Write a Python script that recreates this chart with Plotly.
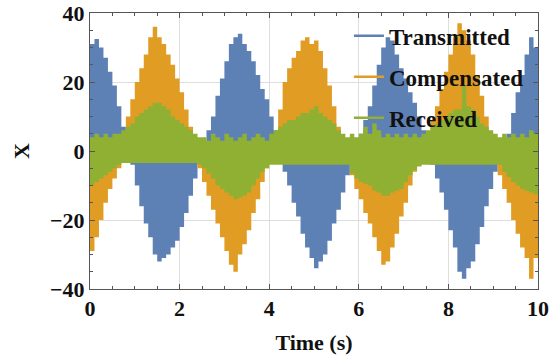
import plotly.graph_objects as go

# time grid (s)
time = [i / 10 for i in range(101)]

# Signed envelope of the Transmitted signal, read at 0.1 s steps
transmitted = [
    31, 32.5, 30, 27, 23, 19, 13, 7, 1, -4,
    -10, -16, -21, -25, -30, -32, -31, -30, -28, -26,
    -22, -18, -13, -8, -3, 2, 6, 10, 16, 21,
    26, 31, 33, 34, 31, 29, 26, 22, 18, 15,
    10, 6, 1, -6, -10, -15, -19, -24, -28, -31,
    -34, -32, -30, -26, -21, -17, -12, -7, -3, 1,
    5, 9, 13, 19, 25, 30, 33, 32, 28, 24,
    21, 17, 14, 10, 6, 2, -4, -8, -12, -17,
    -23, -28, -35, -37, -34, -32, -27, -22, -16, -11,
    -6, -2, 1, 5, 11, 17, 22, 28, 33, 30,
    31,
]

# Signed envelope of the Compensated signal
compensated = [
    -29, -25, -20, -15, -11, -8, -5, -2, 10, 15,
    20, 24, 28, 33, 36, 33, 31, 28, 25, 21,
    17, 12, 7, 3, -5, -9, -13, -17, -21, -25,
    -29, -33, -35, -30, -27, -23, -18, -14, -9, -5,
    -2, 4, 12, 20, 24, 27, 29, 32, 33, 31,
    32, 29, 24, 19, 13, 7, 3, -3, -7, -11,
    -14, -18, -21, -25, -29, -33, -32, -28, -24, -19,
    -15, -10, -6, -2, 2, 5, 9, 13, 18, 23,
    28, 33, 37, 35, 32, 28, 22, 16, 10, 5,
    -3, -7, -11, -15, -20, -24, -28, -31, -37, -31,
    -29,
]

# Upper / lower envelope of the Received signal
received_upper = [
    4, 5, 4, 5, 4, 5, 5, 6, 7, 8,
    10, 11, 12, 13, 14, 14, 13, 12, 10, 9,
    8, 7, 6, 5, 4, 4, 3, 5, 4, 3,
    5, 4, 3, 4, 5, 3, 4, 5, 4, 3,
    5, 6, 7, 8, 9, 9, 10, 11, 11, 12,
    13, 11, 10, 9, 8, 6, 5, 4, 5, 4,
    5, 7, 5, 8, 6, 4, 5, 4, 5, 4,
    5, 4, 5, 4, 5, 6, 7, 8, 9, 10,
    11, 12, 12, 19, 13, 12, 10, 8, 7, 6,
    5, 4, 5, 4, 5, 4, 5, 4, 6, 5,
    4,
]
received_lower = [
    -10, -9, -8, -7, -6, -5, -4, -3.5, -3.5, -3.5,
    -3.5, -3.5, -3.5, -3.5, -3.5, -3.5, -3.5, -3.5, -3.5, -3.5,
    -3.5, -3.5, -3.5, -3.5, -4, -5, -6.5, -8, -10, -11,
    -12, -13, -14, -13.5, -13, -12, -10, -8, -6, -5,
    -4, -4, -4, -4, -4, -4, -4, -4, -4, -4,
    -4, -4, -4, -4, -4, -4, -4, -4, -6.5, -8,
    -9, -9.5, -10, -11.5, -12, -13, -13, -12, -11.5, -11,
    -9, -7, -5.5, -4.5, -4, -4, -4, -4, -4, -4,
    -4, -4, -4, -4, -4, -4, -4, -4, -4, -4,
    -4, -4, -6, -7.5, -9, -10, -11, -11.5, -12, -12.5,
    -13,
]

series_names = ["Transmitted", "Compensated", "Received"]
colors = ["#5E81B5", "#E19C24", "#8FB032"]

FONT = "Liberation Serif"

fig = go.Figure()

# filled signal bodies
fig.add_trace(go.Scatter(x=time, y=transmitted, mode="lines", line=dict(width=0, shape="hv", color=colors[0]),
                         fill="tozeroy", fillcolor=colors[0], showlegend=False, hoverinfo="skip"))
fig.add_trace(go.Scatter(x=time, y=compensated, mode="lines", line=dict(width=0, shape="hv", color=colors[1]),
                         fill="tozeroy", fillcolor=colors[1], showlegend=False, hoverinfo="skip"))
fig.add_trace(go.Scatter(x=time, y=received_lower, mode="lines", line=dict(width=0, shape="hv", color=colors[2]),
                         showlegend=False, hoverinfo="skip"))
fig.add_trace(go.Scatter(x=time, y=received_upper, mode="lines", line=dict(width=0, shape="hv", color=colors[2]),
                         fill="tonexty", fillcolor=colors[2], showlegend=False, hoverinfo="skip"))

# legend entries (line samples)
for name, c in zip(series_names, colors):
    fig.add_trace(go.Scatter(x=[None], y=[None], mode="lines", name=name, legendgroup=name,
                             line=dict(color=c, width=2.5)))

axis_common = dict(
    showline=True, linecolor="#555", linewidth=1, mirror="allticks",
    ticks="inside", ticklen=5, tickcolor="#555", automargin=False,
    showgrid=True, gridcolor="#dedede", gridwidth=1, zeroline=False,
    tickfont=dict(family=FONT, size=22, color="#111", weight="bold"),
)

fig.update_xaxes(range=[0, 10], dtick=2, tick0=0,
                 minor=dict(dtick=0.5, ticks="inside", ticklen=3, tickcolor="#555", showgrid=False),
                 title=dict(text="Time (s)", font=dict(family=FONT, size=22, color="#111", weight="bold"), standoff=14),
                 **axis_common)
fig.update_yaxes(range=[-40, 40], dtick=20, tick0=0,
                 minor=dict(dtick=5, ticks="inside", ticklen=3, tickcolor="#555", showgrid=False),
                 title=dict(text="X", font=dict(family=FONT, size=22, color="#111", weight="bold"), standoff=14),
                 **axis_common)

fig.update_layout(
    width=554, height=359,
    margin=dict(l=90, r=16, t=13, b=70, autoexpand=False),
    paper_bgcolor="white", plot_bgcolor="white",
    legend=dict(x=0.578, y=0.995, xanchor="left", yanchor="top", bgcolor="rgba(0,0,0,0)",
                font=dict(family=FONT, size=23, color="#111", weight="bold"),
                tracegroupgap=8, itemwidth=30),
)

fig.write_html("out.html")
